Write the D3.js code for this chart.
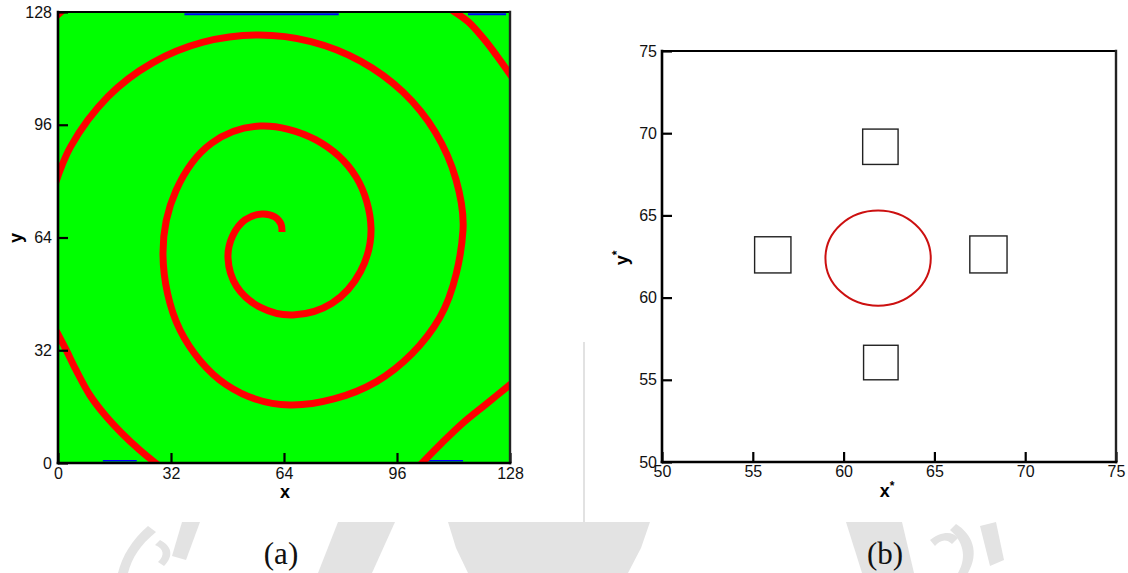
<!DOCTYPE html>
<html><head><meta charset="utf-8">
<script src="https://cdn.jsdelivr.net/npm/d3@7"></script>
<style>html,body{margin:0;padding:0;background:#fff;} svg{display:block;}</style>
</head><body>
<script>
// ---------- panel (a): spiral wave on the 128 x 128 lattice ----------
const gridMajor = [0, 32, 64, 96, 128];
const gridMinor = d3.range(0, 128.01, 6.4);

// wave front centre-line, inner tip outward until it leaves the left edge
const spiralCore = [
  [63.43,65.56],[63.15,67.83],[61.45,69.82],[57.77,70.67],[52.96,68.99],[49.44,64.42],
  [48.14,58.18],[50.61,50.09],[57.35,44.16],[66.55,42.00],[77.59,45.32],[85.66,54.35],
  [88.64,66.70],[84.42,81.17],[72.92,91.76],[57.20,95.64],[43.47,90.74],[33.42,77.34],
  [29.73,59.03],[34.55,37.75],[47.72,22.17],[65.70,16.46],[90.19,23.10],[108.12,41.29],
  [114.69,66.13],[112.71,80.46],[106.90,93.80],[97.70,105.27],[85.66,114.06],[71.65,119.60],
  [56.64,121.47],[41.09,119.43],[26.62,113.50],[14.19,104.02],[3.62,89.86],[-1.08,78.30]
];
// outer arms that cut through the domain corners
const spiralLowerLeft = [[-0.5,37.5],[2.3,32.1],[5.1,26.4],[9.0,19.3],[13.3,13.6],[18.0,8.5],[23.1,3.7],[28.2,-0.5]];
const spiralLowerRight = [[102.5,-0.6],[108.7,5.7],[114.7,11.4],[121.2,16.7],[128.6,22.7]];
const spiralUpperRight = [[111.6,128.5],[116.2,125.2],[120.4,120.6],[124.1,115.8],[128.5,109.6]];
const spiralCorner = [[-0.5,126.8],[1.4,128.5]];
// thin boundary contours
const edgeTopFrom = [35.8, 116.1], edgeTopTo = [79.5, 126.9];
const edgeBottomFrom = [12.7, 104.9], edgeBottomTo = [22.3, 114.7];

// ---------- panel (b): droplet among four square obstacles ----------
const zoomMajor = [50, 55, 60, 65, 70, 75];
const zoomMinor = d3.range(50, 75.01, 1);
const obstacleX0 = [61.05, 55.1, 66.95, 61.1];
const obstacleX1 = [63.0, 57.1, 69.0, 63.0];
const obstacleY0 = [68.1, 61.5, 61.5, 55.0];
const obstacleY1 = [70.25, 63.7, 63.75, 57.1];
const dropCentre = [61.9, 62.4];
const dropRadius = 2.9;

const W = 1128, H = 573;
const svg = d3.select("body").append("svg").attr("width", W).attr("height", H);
const FONT = "'Liberation Sans', Arial, Helvetica, sans-serif";

// faint page watermark behind the figure
const wm = svg.append("g").attr("fill", "#e3e3e3").attr("stroke", "none");
wm.append("path").attr("d", "M338,522 L395,522 L372,573 L318,573 Z");
wm.append("path").attr("d", "M448,522 L650,522 L641,548 L628,573 L468,573 L456,548 Z");
wm.append("path").attr("d", "M846,522 L902,522 L914,573 L862,573 Z");
wm.append("path").attr("d", "M148,526 C132,540 122,556 118,573 L128,573 C132,558 140,545 156,532 Z");
wm.append("path").attr("d", "M160,540 C172,546 174,556 164,566 L158,562 C165,555 164,549 155,545 Z");
wm.append("path").attr("d", "M182,522 L200,522 L186,560 L172,556 Z");
wm.append("path").attr("d", "M930,540 C940,532 952,530 958,538 L952,544 C946,538 940,540 935,546 Z");
wm.append("path").attr("d", "M956,524 C972,534 980,552 968,573 L958,573 C968,556 962,540 950,530 Z");
wm.append("path").attr("d", "M980,526 L996,522 L1004,560 L990,566 Z");
// figure sheet
svg.append("rect").attr("x", 0).attr("y", 0).attr("width", W).attr("height", 522).attr("fill", "#fff");
svg.append("line").attr("x1", 584).attr("x2", 584).attr("y1", 342).attr("y2", 522)
  .attr("stroke", "#d9d9d9").attr("stroke-width", 1.5);

function axes(g, x, y, major, minor, fmtPadX, fmtPadY) {
  const bx = g.append("g").attr("transform", `translate(0,${y.range()[0]})`);
  bx.call(d3.axisBottom(x).tickValues(minor).tickFormat("").tickSize(-5));
  bx.call(d3.axisBottom(x).tickValues(major).tickSize(-10).tickPadding(fmtPadX));
  const ly = g.append("g").attr("transform", `translate(${x.range()[0]},0)`);
  ly.call(d3.axisLeft(y).tickValues(minor).tickFormat("").tickSize(-5));
  ly.call(d3.axisLeft(y).tickValues(major).tickSize(-10).tickPadding(fmtPadY));
  g.selectAll(".domain").remove();
  g.selectAll(".tick line").attr("stroke", "#000").attr("stroke-width", 1.4);
  g.selectAll(".tick text").attr("font-family", FONT).attr("font-size", 16).attr("fill", "#111");
  bx.selectAll(".tick").filter(d => major.includes(d)).select("line").attr("stroke-width", 2.2);
  ly.selectAll(".tick").filter(d => major.includes(d)).select("line").attr("stroke-width", 2.2);
  const [x0, x1] = x.range(), [y0, y1] = y.range();
  const fr = g.append("g").attr("stroke", "#000").attr("stroke-linecap", "square");
  fr.append("line").attr("x1", x0).attr("x2", x1).attr("y1", y1).attr("y2", y1).attr("stroke-width", 2);
  fr.append("line").attr("x1", x1).attr("x2", x1).attr("y1", y1).attr("y2", y0).attr("stroke-width", 2.4).attr("stroke", "#222");
  fr.append("line").attr("x1", x0).attr("x2", x1).attr("y1", y0).attr("y2", y0).attr("stroke-width", 2.6);
  fr.append("line").attr("x1", x0).attr("x2", x0).attr("y1", y1).attr("y2", y0).attr("stroke-width", 2.6);
}

// ---------- panel (a) ----------
const xa = d3.scaleLinear().domain([0, 128]).range([58, 510]);
const ya = d3.scaleLinear().domain([0, 128]).range([463, 12]);
const ga = svg.append("g");
ga.append("defs").append("clipPath").attr("id", "clipA").append("rect")
  .attr("x", xa(0)).attr("y", ya(128)).attr("width", xa(128) - xa(0)).attr("height", ya(0) - ya(128));
ga.append("rect").attr("x", xa(0)).attr("y", ya(128))
  .attr("width", xa(128) - xa(0)).attr("height", ya(0) - ya(128)).attr("fill", "#00ff00");
const field = ga.append("g").attr("clip-path", "url(#clipA)");
edgeTopFrom.forEach((v, i) => field.append("line")
  .attr("x1", xa(v)).attr("x2", xa(edgeTopTo[i])).attr("y1", ya(128) + 2.2).attr("y2", ya(128) + 2.2)
  .attr("stroke", "#0000ff").attr("stroke-width", 2));
edgeBottomFrom.forEach((v, i) => field.append("line")
  .attr("x1", xa(v)).attr("x2", xa(edgeBottomTo[i])).attr("y1", ya(0) - 2.2).attr("y2", ya(0) - 2.2)
  .attr("stroke", "#0000ff").attr("stroke-width", 1.6));
const waveLine = d3.line().x(d => xa(d[0])).y(d => ya(d[1])).curve(d3.curveCatmullRom.alpha(0.5));
[spiralCore, spiralLowerLeft, spiralLowerRight, spiralUpperRight, spiralCorner].forEach(arm =>
  field.append("path").attr("d", waveLine(arm)).attr("fill", "none")
    .attr("stroke", "#ff0000").attr("stroke-width", 7).attr("stroke-linecap", "butt"));
axes(ga, xa, ya, gridMajor, gridMinor, 5, 6);
ga.append("text").attr("x", 285).attr("y", 498).attr("text-anchor", "middle")
  .attr("font-family", FONT).attr("font-weight", "bold").attr("font-size", 18).text("x");
ga.append("text").attr("transform", "translate(22,238) rotate(-90)").attr("text-anchor", "middle")
  .attr("font-family", FONT).attr("font-weight", "bold").attr("font-size", 18).text("y");

// ---------- panel (b) ----------
const xb = d3.scaleLinear().domain([50, 75]).range([662, 1116]);
const yb = d3.scaleLinear().domain([50, 75]).range([462, 51]);
const gb = svg.append("g");
gb.selectAll("rect.obstacle").data(obstacleX0).join("rect").attr("class", "obstacle")
  .attr("x", (d, i) => xb(obstacleX0[i])).attr("y", (d, i) => yb(obstacleY1[i]))
  .attr("width", (d, i) => xb(obstacleX1[i]) - xb(obstacleX0[i]))
  .attr("height", (d, i) => yb(obstacleY0[i]) - yb(obstacleY1[i]))
  .attr("fill", "none").attr("stroke", "#222").attr("stroke-width", 1.4);
gb.append("ellipse").attr("cx", xb(dropCentre[0])).attr("cy", yb(dropCentre[1]))
  .attr("rx", xb(dropCentre[0] + dropRadius) - xb(dropCentre[0]))
  .attr("ry", yb(dropCentre[1]) - yb(dropCentre[1] + dropRadius))
  .attr("fill", "none").attr("stroke", "#cc1010").attr("stroke-width", 2);
axes(gb, xb, yb, zoomMajor, zoomMinor, 4, 5);
const xt = gb.append("text").attr("x", 887).attr("y", 497).attr("text-anchor", "middle")
  .attr("font-family", FONT).attr("font-weight", "bold").attr("font-size", 18);
xt.append("tspan").text("x");
xt.append("tspan").attr("dy", -7).attr("font-size", 12).text("*");
const yt = gb.append("text").attr("transform", "translate(628,258) rotate(-90)").attr("text-anchor", "middle")
  .attr("font-family", FONT).attr("font-weight", "bold").attr("font-size", 18);
yt.append("tspan").text("y");
yt.append("tspan").attr("dy", -7).attr("font-size", 12).text("*");

// sub-figure captions
const SERIF = "'Liberation Serif', 'DejaVu Serif', serif";
svg.append("text").attr("x", 281).attr("y", 564).attr("text-anchor", "middle")
  .attr("font-family", SERIF).attr("font-size", 31).attr("fill", "#111").text("(a)");
svg.append("text").attr("x", 885).attr("y", 564).attr("text-anchor", "middle")
  .attr("font-family", SERIF).attr("font-size", 31).attr("fill", "#111").text("(b)");
</script>
</body></html>
